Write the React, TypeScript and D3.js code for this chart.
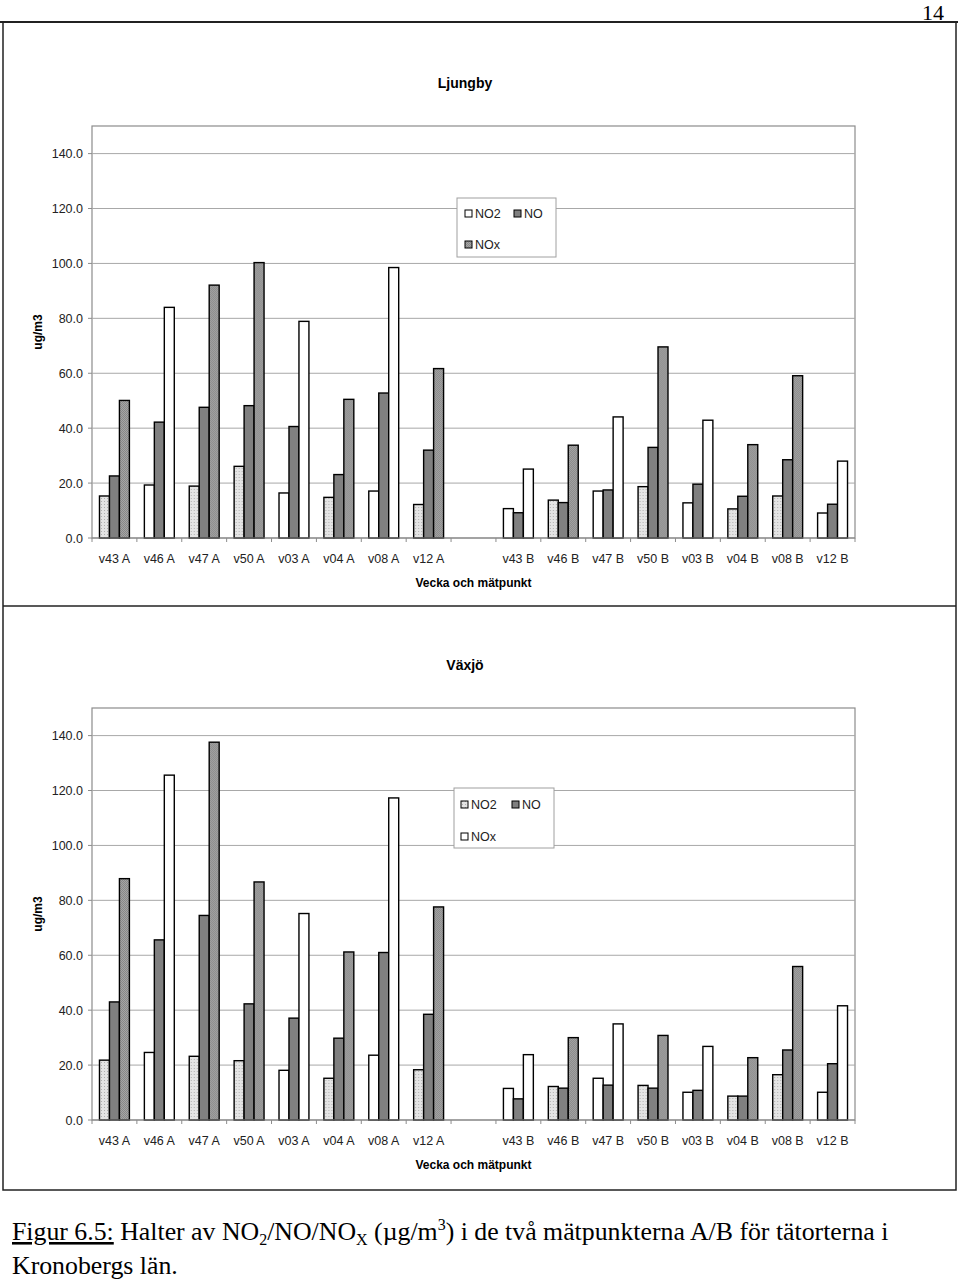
import React from 'react';
import * as d3 from 'd3';

// categories (week + measuring point)
const catsA = ['v43 A', 'v46 A', 'v47 A', 'v50 A', 'v03 A', 'v04 A', 'v08 A', 'v12 A'];
const catsB = ['v43 B', 'v46 B', 'v47 B', 'v50 B', 'v03 B', 'v04 B', 'v08 B', 'v12 B'];
const series = ['NO2', 'NO', 'NOx'];
const yTicks = [0, 20, 40, 60, 80, 100, 120, 140];

// Ljungby
const ljNO2 = [15.3, 19.3, 18.9, 26.1, 16.4, 14.8, 17.1, 12.2, 10.7, 13.8, 17.1, 18.7, 12.8, 10.6, 15.3, 9.1];
const ljNO = [22.6, 42.2, 47.6, 48.2, 40.6, 23.1, 52.8, 32.0, 9.2, 12.9, 17.5, 33.0, 19.6, 15.2, 28.5, 12.3];
const ljNOx = [50.1, 84.0, 92.1, 100.3, 78.9, 50.5, 98.5, 61.7, 25.1, 33.8, 44.1, 69.6, 42.9, 34.0, 59.1, 28.0];

// Växjö
const vxNO2 = [21.8, 24.6, 23.2, 21.6, 18.1, 15.2, 23.6, 18.3, 11.5, 12.2, 15.2, 12.6, 10.1, 8.7, 16.5, 10.1];
const vxNO = [43.0, 65.6, 74.5, 42.3, 37.1, 29.8, 61.0, 38.5, 7.7, 11.6, 12.7, 11.6, 10.8, 8.7, 25.5, 20.5];
const vxNOx = [87.9, 125.6, 137.6, 86.7, 75.2, 61.2, 117.3, 77.6, 23.8, 30.0, 35.0, 30.8, 26.8, 22.7, 55.9, 41.6];

// which groups came out with pattern fills (1) or plain white (0) in the scan
const patterned = [1, 0, 1, 1, 0, 1, 0, 1, 0, 1, 0, 1, 0, 1, 1, 0];

const SANS = 'Liberation Sans, Arial, sans-serif';
const SERIF = 'Liberation Serif, Times New Roman, serif';

const FILL = {
    light: 'url(#patLight)',
    dark: '#808080',
    mid: 'url(#patMid)',
    white: '#fff',
};

function fillFor(s, i) {
    if (s === 'NO') return FILL.dark;
    if (!patterned[i]) return FILL.white;
    return s === 'NO2' ? FILL.light : FILL.mid;
}

function Panel({ top, title, no2, no, nox, legend }) {
    const left = 92, right = 855;
    const plotTop = top + 104;
    const zeroY = top + 516;
    const domain = [...catsA, '', ...catsB];
    const values = { NO2: no2, NO: no, NOx: nox };

    const x = d3.scaleBand().domain(domain).range([left, right]);
    const xs = d3.scaleBand().domain(series).range([0, x.bandwidth()]).paddingOuter(0.75);
    const y = d3.scaleLinear().domain([0, 140]).range([zeroY, zeroY - 384.4]);

    const dataCats = [...catsA, ...catsB];
    const lg = legend;

    return (
        <g>
            <text x={465} y={top + 66} textAnchor="middle" fontFamily={SANS} fontWeight="bold" fontSize={14}>{title}</text>
            <rect x={left} y={plotTop} width={right - left} height={zeroY - plotTop} fill="#fff" stroke="#8c8c8c" strokeWidth={1.2} />
            {yTicks.slice(1).map(t => (
                <line key={t} x1={left} x2={right} y1={y(t)} y2={y(t)} stroke="#a8a8a8" strokeWidth={1} />
            ))}
            {yTicks.map(t => (
                <g key={'yt' + t}>
                    <line x1={left - 4} x2={left} y1={y(t)} y2={y(t)} stroke="#8c8c8c" />
                    <text x={83} y={y(t) + 4.5} textAnchor="end" fontFamily={SANS} fontSize={12.5} fill="#222">{t.toFixed(1)}</text>
                </g>
            ))}
            <text transform={`translate(42,${(plotTop + zeroY) / 2}) rotate(-90)`} textAnchor="middle" fontFamily={SANS} fontWeight="bold" fontSize={12}>ug/m3</text>

            {/* legend */}
            <rect x={lg.x} y={top + lg.y} width={lg.w} height={lg.h} fill="#fff" stroke="#a0a0a0" />
            {lg.items.map(it => (
                <g key={it.name}>
                    <rect x={it.sx} y={top + it.sy} width={7} height={7} fill={it.fill} stroke="#000" strokeWidth={1} />
                    <text x={it.sx + 10} y={top + it.sy + 8} fontFamily={SANS} fontSize={12.5} fill="#222">{it.name}</text>
                </g>
            ))}

            {/* bars */}
            {dataCats.map((c, i) => (
                <g key={c} transform={`translate(${x(c)},0)`}>
                    {series.map(s => {
                        const v = values[s][i];
                        return <rect key={s} x={xs(s)} y={y(v)} width={xs.bandwidth()} height={zeroY - y(v)}
                            fill={fillFor(s, i)} stroke="#000" strokeWidth={1.4} />;
                    })}
                </g>
            ))}

            <line x1={left} x2={right} y1={zeroY} y2={zeroY} stroke="#8c8c8c" strokeWidth={1.2} />
            {domain.map((c, i) => (
                <line key={'xt' + i} x1={left + i * x.step()} x2={left + i * x.step()} y1={zeroY} y2={zeroY + 4} stroke="#8c8c8c" />
            ))}
            <line x1={right} x2={right} y1={zeroY} y2={zeroY + 4} stroke="#8c8c8c" />
            {domain.map((c, i) => (
                <text key={'xl' + i} x={x(c) + x.bandwidth() / 2} y={zeroY + 25} textAnchor="middle" fontFamily={SANS} fontSize={12.5} fill="#222">{c}</text>
            ))}
            <text x={(left + right) / 2} y={zeroY + 49} textAnchor="middle" fontFamily={SANS} fontWeight="bold" fontSize={12}>Vecka och mätpunkt</text>
        </g>
    );
}

export default function App() {
    const legendTop = {
        x: 457, y: 176, w: 99, h: 59,
        items: [
            { name: 'NO2', sx: 465, sy: 188, fill: FILL.white },
            { name: 'NO', sx: 514, sy: 188, fill: FILL.dark },
            { name: 'NOx', sx: 465, sy: 219, fill: FILL.mid },
        ],
    };
    const legendBottom = {
        x: 454, y: 184, w: 100, h: 60,
        items: [
            { name: 'NO2', sx: 461, sy: 197, fill: FILL.light },
            { name: 'NO', sx: 512, sy: 197, fill: FILL.dark },
            { name: 'NOx', sx: 461, sy: 229, fill: FILL.white },
        ],
    };

    return (
        <svg width={960} height={1281} style={{ position: 'absolute', left: 0, top: 0, background: '#fff' }}>
            <defs>
                <pattern id="patLight" width={3} height={3} patternUnits="userSpaceOnUse">
                    <rect width={3} height={3} fill="#e4e4e4" />
                    <rect width={1} height={1} fill="#b0b0b0" />
                </pattern>
                <pattern id="patMid" width={2} height={2} patternUnits="userSpaceOnUse">
                    <rect width={2} height={2} fill="#a6a6a6" />
                    <rect width={1} height={1} fill="#888" />
                    <rect x={1} y={1} width={1} height={1} fill="#888" />
                </pattern>
            </defs>
            <rect width={960} height={1281} fill="#fff" />
            <text x={944} y={20} textAnchor="end" fontFamily={SERIF} fontSize={22}>14</text>
            <line x1={0} x2={958} y1={22} y2={22} stroke="#222" strokeWidth={2} />
            <rect x={3} y={22} width={953} height={1168} fill="none" stroke="#222" strokeWidth={1.5} />
            <line x1={3} x2={956} y1={606} y2={606} stroke="#222" strokeWidth={1.5} />

            <Panel top={22} title="Ljungby" no2={ljNO2} no={ljNO} nox={ljNOx} legend={legendTop} />
            <Panel top={604} title="Växjö" no2={vxNO2} no={vxNO} nox={vxNOx} legend={legendBottom} />

            <text x={12} y={1240} fontFamily={SERIF} fontSize={25.8}>
                <tspan textDecoration="underline">Figur 6.5:</tspan>
                <tspan> Halter av NO</tspan>
                <tspan fontSize={16} dy={5}>2</tspan>
                <tspan dy={-5}>/NO/NO</tspan>
                <tspan fontSize={16} dy={5}>X</tspan>
                <tspan dy={-5}> (µg/m</tspan>
                <tspan fontSize={16} dy={-10}>3</tspan>
                <tspan dy={10}>) i de två mätpunkterna A/B för tätorterna i</tspan>
            </text>
            <text x={12} y={1274} fontFamily={SERIF} fontSize={25.8}>Kronobergs län.</text>
        </svg>
    );
}
